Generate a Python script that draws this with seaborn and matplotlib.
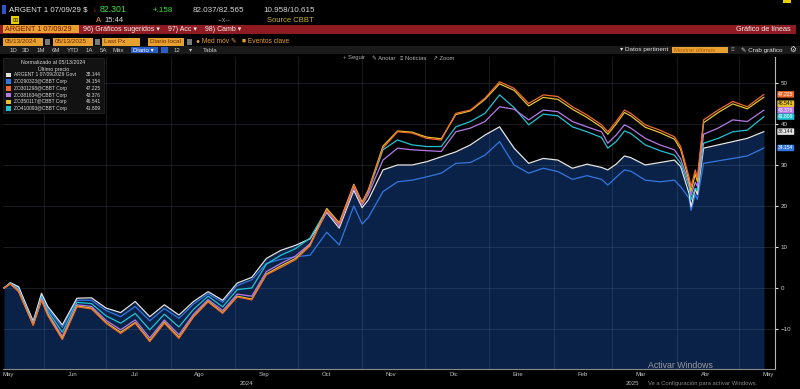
import pandas as pd
import matplotlib
matplotlib.use("Agg")
import matplotlib.pyplot as plt
import matplotlib.dates as mdates
from matplotlib.patches import Rectangle
from matplotlib.ticker import FuncFormatter, NullFormatter
import seaborn as sns

# ====================== DATA (normalizado al 05/13/2024) ======================
fechas = [
    "2024-05-13", "2024-05-16", "2024-05-20", "2024-05-27", "2024-05-31",
    "2024-06-03", "2024-06-10", "2024-06-17", "2024-06-24",
    "2024-07-01", "2024-07-08", "2024-07-15", "2024-07-22", "2024-07-29",
    "2024-08-05", "2024-08-12", "2024-08-19", "2024-08-26",
    "2024-09-02", "2024-09-09", "2024-09-16", "2024-09-23", "2024-09-30",
    "2024-10-07", "2024-10-15", "2024-10-21", "2024-10-28",
    "2024-11-01", "2024-11-04", "2024-11-11", "2024-11-18", "2024-11-25",
    "2024-12-02", "2024-12-09", "2024-12-16", "2024-12-23", "2024-12-30",
    "2025-01-06", "2025-01-13", "2025-01-20", "2025-01-27",
    "2025-02-03", "2025-02-10", "2025-02-17", "2025-02-24", "2025-02-27",
    "2025-03-03", "2025-03-07", "2025-03-10", "2025-03-17", "2025-03-24", "2025-03-31",
    "2025-04-03", "2025-04-07", "2025-04-08", "2025-04-10", "2025-04-11", "2025-04-14", "2025-04-21", "2025-04-28",
    "2025-05-05", "2025-05-13",
]

argent_29 = [0.0, 1.3, 0.3, -8.2, -1.3,
             -4.5, -9.0, -2.5, -2.4,
             -4.9, -6.0, -3.3, -7.0, -4.1,
             -6.6, -3.3, -0.9, -3.0,
             1.2, 2.6, 7.2, 9.2, 10.4,
             12.0, 18.4, 14.6, 23.8,
             19.6, 21.5, 28.8, 30.0, 30.0,
             30.8, 32.0, 33.2, 34.9, 37.3,
             39.3, 34.1, 30.4, 31.6,
             31.2, 29.2, 30.2, 29.4, 28.8,
             30.2, 32.2, 31.8, 30.0, 30.6, 31.2,
             29.6, 23.1, 19.8, 24.2, 22.8, 34.1, 34.9, 35.7,
             36.5, 38.144]

bono_azul = [0.0, 1.2, 0.1, -8.0, -1.8,
             -5.0, -9.6, -3.0, -3.0,
             -5.5, -7.0, -4.5, -8.0, -5.0,
             -7.4, -3.9, -1.4, -3.5,
             0.6, 2.0, 6.0, 7.0, 7.6,
             8.0, 13.6, 10.5, 20.0,
             15.6, 17.2, 23.5, 25.9, 26.3,
             27.1, 28.0, 30.4, 30.6, 32.4,
             35.7, 30.0, 28.0, 29.2,
             28.4, 26.5, 27.4, 26.5, 25.1,
             27.0, 28.8, 28.5, 26.3, 25.9, 26.3,
             24.7, 21.9, 18.9, 22.8, 21.6, 30.4, 31.0, 31.6,
             32.2, 34.154]

bono_naranja = [0.0, 1.0, -0.9, -9.1, -3.0,
                -6.7, -12.6, -4.6, -5.1,
                -8.6, -11.1, -8.6, -13.1, -8.6,
                -12.3, -7.1, -3.4, -6.2,
                -2.2, -2.9, 3.2, 5.0, 6.9,
                10.3, 19.0, 15.6, 25.0,
                20.6, 23.8, 34.1, 38.1, 37.8,
                36.5, 36.1, 42.6, 43.4, 46.3,
                50.3, 48.7, 45.0, 47.1,
                46.7, 44.2, 42.2, 39.8, 38.1,
                40.6, 43.4, 42.6, 39.8, 38.5, 36.9,
                34.5, 27.1, 24.7, 28.8, 26.8, 41.0, 43.4, 45.5,
                44.2, 47.225]

bono_violeta = [0.0, 1.1, -0.6, -8.8, -2.6,
                -6.2, -11.8, -4.1, -4.5,
                -7.9, -10.2, -7.8, -12.2, -7.8,
                -11.4, -6.4, -2.8, -5.5,
                -1.5, -2.0, 4.0, 6.0, 7.8,
                10.8, 18.6, 15.2, 24.5,
                20.2, 22.8, 31.2, 34.1, 33.7,
                33.5, 33.3, 38.1, 39.0, 40.6,
                44.2, 43.6, 41.0, 43.4,
                43.0, 40.6, 39.3, 38.1, 35.3,
                37.3, 39.8, 39.0, 36.5, 34.9, 33.7,
                31.5, 25.5, 22.6, 25.8, 24.8, 37.5, 39.0, 41.0,
                40.6, 43.376]

bono_amarillo = [0.0, 1.0, -0.8, -9.0, -2.9,
                 -6.5, -12.3, -4.4, -4.9,
                 -8.4, -10.8, -8.4, -12.8, -8.3,
                 -12.0, -6.9, -3.2, -6.0,
                 -2.0, -2.7, 3.4, 5.4, 7.2,
                 10.5, 19.4, 15.9, 25.3,
                 20.9, 24.0, 34.6, 38.3, 38.0,
                 36.8, 36.4, 42.3, 43.2, 46.0,
                 49.8, 48.2, 44.4, 46.5,
                 46.0, 43.6, 41.6, 39.2, 37.5,
                 40.0, 42.8, 42.0, 39.2, 37.9, 36.3,
                 33.8, 26.2, 23.6, 27.8, 26.0, 40.3, 42.8, 44.9,
                 43.7, 46.541]

bono_cian = [0.0, 1.2, -0.3, -8.6, -2.2,
             -5.6, -10.8, -3.5, -3.8,
             -6.8, -8.6, -6.2, -10.2, -6.4,
             -9.5, -5.2, -2.0, -4.6,
             -0.4, 0.0, 5.8, 8.0, 9.6,
             12.2, 19.2, 15.6, 24.8,
             20.8, 23.4, 33.7, 36.1, 34.9,
             34.5, 34.5, 39.3, 40.6, 42.6,
             47.1, 44.0, 39.8, 42.4,
             42.0, 39.3, 38.1, 36.7, 34.1,
             35.7, 38.3, 37.7, 34.9, 33.5, 32.4,
             30.4, 24.7, 21.5, 24.3, 24.0, 35.3, 36.5, 38.1,
             38.5, 41.809]

nombres = ["ARGENT 1 07/09/2029 Govt", "ZO290323@CBBT Corp", "ZO301298@CBBT Corp",
           "ZO381634@CBBT Corp", "ZO350117@CBBT Corp", "ZO410093@CBBT Corp"]
valores = [argent_29, bono_azul, bono_naranja, bono_violeta, bono_amarillo, bono_cian]
colores = ["#e4e4e4", "#3276e0", "#ee6a2c", "#b67ae8", "#e6c22a", "#22c2d4"]
meses = ["Ene", "Feb", "Mar", "Abr", "May", "Jun", "Jul", "Ago", "Sep", "Oct", "Nov", "Dic"]

# ====================== STYLE ======================
sns.set_style("dark")
plt.rcParams['font.family'] = ['Liberation Sans', 'DejaVu Sans']

W, H = 800, 389
fig = plt.figure(figsize=(8, 3.89), dpi=100, facecolor="black")
ax = fig.add_axes([3 / W, 20 / H, 772 / W, 312 / H])
ax.set_facecolor("black")


def caja(x0, y0, x1, y1, color, z=1, **kw):
    fig.add_artist(Rectangle((x0 / W, 1 - y1 / H), (x1 - x0) / W, (y1 - y0) / H,
                             transform=fig.transFigure, facecolor=color,
                             edgecolor=kw.pop("ec", "none"), zorder=z, **kw))


def texto(x, y, s, color, size=5.5, z=5, **kw):
    fig.text(x / W, 1 - y / H, s, color=color, fontsize=size, va="center", zorder=z, **kw)


# ====================== SERIES ======================
df = pd.DataFrame({"fecha": pd.to_datetime(fechas)})
for n, v in zip(nombres, valores):
    df[n] = v
largo = df.melt(id_vars="fecha", var_name="serie", value_name="valor")

paleta = dict(zip(nombres, colores))
orden = [nombres[1], nombres[0], nombres[5], nombres[3], nombres[4], nombres[2]]

ax.fill_between(df["fecha"], df[nombres[0]], -40, color="#0b2248", lw=0, zorder=0.3)
sns.lineplot(data=largo, x="fecha", y="valor", hue="serie", hue_order=orden,
             palette=paleta, linewidth=0.9, legend=False, ax=ax, zorder=2)

t0 = pd.Timestamp(fechas[0])
ax.set_xlim(t0 - pd.Timedelta(days=0.5), t0 + pd.Timedelta(days=370.3))
ax.set_ylim(-19.76, 56.34)
ax.set_xlabel("")
ax.set_ylabel("")

# grid / axes
ax.set_axisbelow(True)
ax.grid(True, which="major", color="#8090a8", alpha=0.22, lw=0.6)
for s in ["top", "left"]:
    ax.spines[s].set_visible(False)
ax.spines["right"].set_color("#b8b8b8")
ax.spines["right"].set_linewidth(0.8)
ax.spines["bottom"].set_color("#8a8a8a")
ax.spines["bottom"].set_linewidth(0.8)

ax.xaxis.set_major_locator(mdates.MonthLocator())
ax.xaxis.set_major_formatter(NullFormatter())
ax.xaxis.set_minor_locator(mdates.MonthLocator(bymonthday=15))
ax.xaxis.set_minor_formatter(FuncFormatter(lambda x, pos: meses[mdates.num2date(x).month - 1]))
ax.tick_params(axis="x", which="major", length=2.5, width=0.6, color="#9a9a9a")
ax.tick_params(axis="x", which="minor", length=0, labelsize=4.3, labelcolor="#c0c0c0", pad=2.5)

ax.yaxis.tick_right()
ax.set_yticks(range(-10, 51, 10))
ax.tick_params(axis="y", length=2, width=0.8, color="#e0e0e0", labelsize=4.5,
               labelcolor="#d0d0d0", pad=2)

# year labels centred on each year's span
x0, x1 = ax.get_xlim()
corte = mdates.date2num(pd.Timestamp("2025-01-01"))
for cx, anio in [((x0 + corte) / 2, "2024"), ((corte + x1) / 2, "2025")]:
    ax.text(cx, -0.045, anio, transform=ax.get_xaxis_transform(), ha="center",
            va="center", fontsize=4.3, color="#c0c0c0")

# last-price tags on the right axis (yellow sits just under the orange one)
for i in [0, 1, 5, 3, 4, 2]:
    ultimo = valores[i][-1]
    pos = ultimo - 1.6 if i == 4 else ultimo
    ax.text(1.004, pos, f"{ultimo:.3f}", transform=ax.get_yaxis_transform(),
            fontsize=3.6, color="#111111" if i in (0, 4) else "white", ha="left", va="center",
            bbox=dict(boxstyle="round,pad=0.15", fc=colores[i], ec="none"), zorder=6)

# ====================== LEGEND BOX ======================
caja(3, 58, 104, 113, "#121212", z=3, ec="#2a2a2a", lw=0.5)
texto(53.5, 63, "Normalizado al 05/13/2024", "#d8d8d8", 3.8, ha="center")
texto(53.5, 69, "Último precio", "#d8d8d8", 3.8, ha="center")
for k, (n, v, c) in enumerate(zip(nombres, valores, colores)):
    yy = 75 + k * 6.7
    caja(6, yy - 2.3, 11, yy + 2.3, c, z=4)
    texto(14, yy, n, "#d8d8d8", 3.5)
    texto(101, yy, f"{v[-1]:.3f}", "#d8d8d8", 3.5, ha="right")

# ====================== BLOOMBERG HEADER ======================
# row 1
caja(2, 5, 6, 14, "#2f56c8")
texto(9, 10, "ARGENT 1 07/09/29 $", "#e6e6e6", 5.7)
texto(93, 10, "↓", "#e03030", 5.7)
texto(100, 10, "82.301", "#3ee03e", 6.3)
texto(153, 10, "+.158", "#3ee03e", 5.8)
texto(193, 10, "82.037/82.565", "#d8d8d8", 5.8)
texto(263, 10, "10.958/10.615", "#d8d8d8", 5.8)
caja(783, 0, 791, 3, "#e8d000")
# row 2
caja(11, 16, 19, 24, "#e8d000")
texto(15, 20, "⊞", "#3a3000", 4.5, ha="center")
texto(96, 21, "A", "#e8a040", 5.5)
texto(104, 21, "15:44", "#d8d8d8", 5.5)
texto(218, 21, "--x--", "#9a9a9a", 5)
texto(267, 21, "Source CBBT", "#c8b040", 5.5)
# row 3 (red band)
caja(0, 25, 796, 33.5, "#8e1b22")
caja(3, 25.5, 79, 33, "#e8a030", z=2)
texto(5, 29.3, "ARGENT 1 07/09/29", "#7a1010", 5.2)
texto(83, 29.3, "96) Gráficos sugeridos ▾    97) Acc ▾    98) Camb ▾", "#f0f0f0", 5)
texto(791, 29.3, "Gráfico de líneas", "#f0f0f0", 5.2, ha="right")
# row 4
for a, b, s in [(3, 43, "05/13/2024"), (53, 93, "05/13/2025"), (102, 140, "Last Px"),
                (148, 184, "Diario local")]:
    caja(a, 38, b, 45.5, "#e8a030")
    texto(a + 2, 41.8, s, "#6a2a00", 4.6)
for a in [45, 95, 187]:
    caja(a, 39, a + 5, 44.5, "#7a7a7a")
texto(196, 41.8, "● Med móv ✎", "#e8a030", 4.8)
texto(242, 41.8, "■ Eventos clave", "#e8a030", 4.8)
# row 5
caja(0, 46, 800, 54, "#1a1a1a")
for xx, s in [(10, "1D"), (22, "3D"), (37, "1M"), (52, "6M"), (67, "YTD"), (86, "1A"),
              (100, "5A"), (113, "Máx")]:
    texto(xx, 50, s, "#c8c8c8", 4.4)
caja(131, 47, 158, 53, "#2a5cc8", z=2)
texto(133, 50, "Diario ▾", "white", 4.4)
caja(161, 47, 168, 53, "#2a5cc8", z=2)
texto(174, 50, "12", "#c8c8c8", 4.4)
texto(189, 50, "▾", "#c8c8c8", 4.4)
texto(203, 50, "Tabla", "#c8c8c8", 4.4)
texto(620, 50, "▾ Datos pertinent", "#e0e0e0", 4.6)
caja(672, 47, 728, 53, "#e8a030", z=2)
texto(674, 50, "Mostrar últimos", "#b05a10", 4.3)
texto(731, 50, "≡", "#9a9a9a", 4.6)
texto(741, 50, "✎ Crab gráfico", "#e0e0e0", 4.6)
texto(789, 50, "⚙", "#e0e0e0", 5.5)
# chart toolbar
for xx, s in [(343, "+ Seguir"), (372, "✎ Anotar"), (400, "≡ Noticias"), (433, "↗ Zoom")]:
    texto(xx, 58, s, "#b0b0b0", 4.2)

# windows watermark
texto(648, 365, "Activar Windows", "#9a9a9a", 6.3)
texto(648, 383, "Ve a Configuración para activar Windows.", "#8a8a8a", 4.2)

plt.savefig("out.png", dpi=100, facecolor="black")
